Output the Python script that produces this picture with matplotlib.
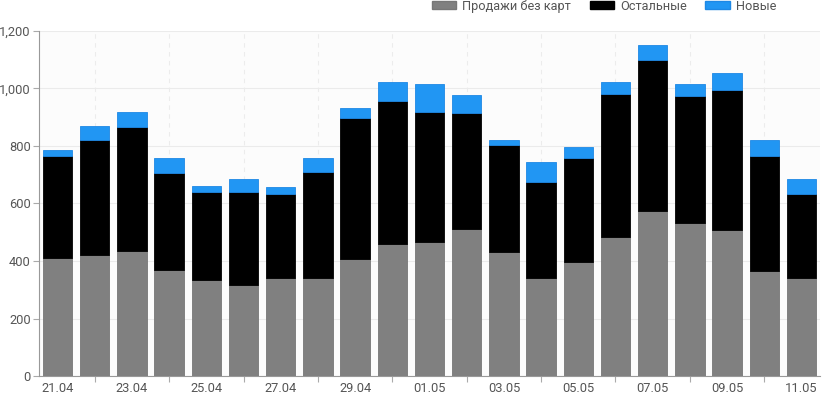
import matplotlib.pyplot as plt
from matplotlib.patches import Patch
import numpy as np

plt.rcParams['font.family'] = ['Roboto', 'DejaVu Sans']

# data
dates = ['21.04', '22.04', '23.04', '24.04', '25.04', '26.04', '27.04', '28.04', '29.04', '30.04',
         '01.05', '02.05', '03.05', '04.05', '05.05', '06.05', '07.05', '08.05', '09.05', '10.05', '11.05']
no_card = [410, 420, 436, 367, 334, 317, 340, 340, 406, 459, 465, 510, 430, 340, 398, 482, 575, 533, 507, 366, 341]
others = [356, 401, 431, 340, 307, 324, 293, 370, 491, 496, 454, 405, 375, 335, 360, 498, 525, 441, 488, 399, 292]
new = [19, 47, 51, 51, 19, 45, 24, 47, 34, 66, 98, 62, 16, 70, 39, 44, 50, 40, 58, 56, 52]

c_gray = '#808080'
c_black = '#000000'
c_blue = '#2196f3'
txt = '#555555'

fig = plt.figure(figsize=(8.22, 3.95), dpi=100)
ax = fig.add_axes([39/822, 19/395, 781/822, 345/395])
ax.set_facecolor('#fcfcfc')

x = np.arange(len(dates))
w = 0.79
b1 = np.array(no_card)
b2 = b1 + np.array(others)
ax.bar(x, no_card, w, color=c_gray, edgecolor='#777777', linewidth=0.6, zorder=3)
ax.bar(x, others, w, bottom=b1, color=c_black, edgecolor=c_black, linewidth=0.6, zorder=3)
ax.bar(x, new, w, bottom=b2, color=c_blue, edgecolor='#1e88e5', linewidth=0.6, zorder=3)

ax.set_xlim(-0.5, len(dates) - 0.5)
ax.set_ylim(0, 1200)
ax.set_yticks(range(0, 1201, 200))
ax.set_yticklabels([f'{v:,}' for v in range(0, 1201, 200)])
ax.grid(axis='y', color='#ebebeb', linewidth=0.8, zorder=0)

# labels on even days, tick marks + dashed grid on odd ones
ax.set_xticks(x[::2])
ax.set_xticklabels(dates[::2])
ax.set_xticks(x[1::2], minor=True)
ax.tick_params(axis='x', which='major', length=0, pad=4)
ax.tick_params(axis='x', which='minor', length=4, color='#aaaaaa', width=0.8)
ax.tick_params(axis='y', length=4, color='#aaaaaa', width=0.8, pad=2)
ax.tick_params(labelsize=9.3, labelcolor=txt)
for xi in x[1::2]:
    ax.axvline(xi, color='#ececec', linestyle=(0, (4, 4)), linewidth=0.8, zorder=0)

for s in ['top', 'right']:
    ax.spines[s].set_visible(False)
for s in ['left', 'bottom']:
    ax.spines[s].set_color('#999999')
    ax.spines[s].set_linewidth(0.8)

handles = [Patch(facecolor=c_gray, edgecolor='#777777'),
           Patch(facecolor=c_black, edgecolor=c_black),
           Patch(facecolor=c_blue, edgecolor='#1e88e5')]
fig.legend(handles, ['Продажи без карт', 'Остальные', 'Новые'], ncol=3,
           loc='upper right', bbox_to_anchor=(788/822, 1.03), frameon=False,
           fontsize=9.2, labelcolor=txt, handlelength=1.9, handleheight=0.6,
           columnspacing=1.45, handletextpad=0.5)

fig.savefig('out.png', dpi=100)
